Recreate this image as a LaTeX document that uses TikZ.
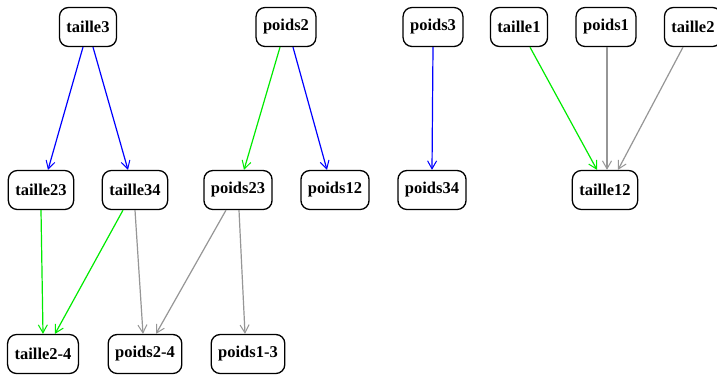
\documentclass[tikz,border=0pt]{standalone}
\usepackage{fontspec}
\setmainfont{Liberation Serif}
\usetikzlibrary{arrows.meta}
\begin{document}
\begin{tikzpicture}[x=1pt,y=-1pt,
  nd/.style={draw=black,line width=1.3pt,rounded corners=9pt,fill=white,
    minimum height=39pt,inner xsep=7pt,font=\fontsize{16.5}{17}\selectfont\bfseries},
  ed/.style={line width=1.2pt,-{Straight Barb[length=8pt,width=9pt,line width=1pt]}},
  bl/.style={ed,draw=blue},
  gr/.style={ed,draw={rgb,255:red,0;green,235;blue,0}},
  gy/.style={ed,draw={rgb,255:red,150;green,150;blue,150}}]
\useasboundingbox[fill=white] (0,0) rectangle (717,376);
% row 1
\node[nd] (t3) at (88,27) {taille3};
\node[nd] (p2) at (286,27) {poids2};
\node[nd] (p3) at (433,27) {poids3};
\node[nd] (t1) at (519,27) {taille1};
\node[nd] (p1) at (606,27) {poids1};
\node[nd] (t2) at (693,27) {taille2};
% row 2
\node[nd] (t23) at (41,190) {taille23};
\node[nd] (t34) at (135,190) {taille34};
\node[nd] (p23) at (238,190) {poids23};
\node[nd] (p12) at (335,190) {poids12};
\node[nd] (p34) at (432,190) {poids34};
\node[nd] (t12) at (605,190) {taille12};
% row 3
\node[nd] (t24) at (43,354) {taille2-4};
\node[nd] (p24) at (145,354) {poids2-4};
\node[nd] (p13) at (248,354) {poids1-3};
% edges
\draw[bl] ([xshift=-5pt]t3.south) -- ([xshift=7pt]t23.north);
\draw[bl] ([xshift=5pt]t3.south) -- ([xshift=-7pt]t34.north);
\draw[gr] ([xshift=-6pt]p2.south) -- ([xshift=6pt]p23.north);
\draw[bl] ([xshift=7pt]p2.south) -- ([xshift=-8pt]p12.north);
\draw[bl] (p3.south) -- (p34.north);
\draw[gr] ([xshift=11pt]t1.south) -- ([xshift=-8pt]t12.north);
\draw[gy] ([xshift=1pt]p1.south) -- ([xshift=2pt]t12.north);
\draw[gy] ([xshift=-10pt]t2.south) -- ([xshift=13pt]t12.north);
\draw[gr] (t23.south) -- (t24.north);
\draw[gr] ([xshift=-12pt]t34.south) -- ([xshift=12pt]t24.north);
\draw[gy] (t34.south) -- ([xshift=-2pt]p24.north);
\draw[gy] ([xshift=-12pt]p23.south) -- ([xshift=11pt]p24.north);
\draw[gy] ([xshift=1pt]p23.south) -- ([xshift=-3pt]p13.north);
\end{tikzpicture}
\end{document}
